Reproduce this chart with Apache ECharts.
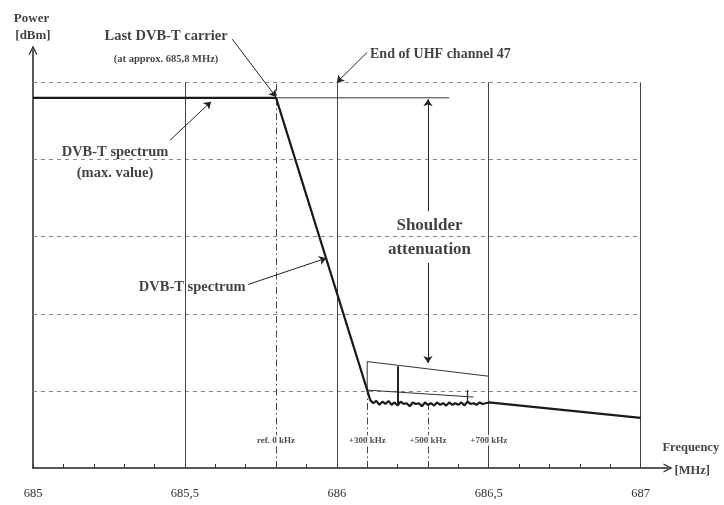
<!DOCTYPE html>
<html>
<head>
<meta charset="utf-8">
<script src="https://cdn.jsdelivr.net/npm/echarts@6/dist/echarts.min.js"></script>
<style>
  html, body { margin: 0; padding: 0; background: #fff; }
  #chart { width: 724px; height: 505px; }
</style>
</head>
<body>
<div id="chart"></div>
<script>
  // spectrum of the last DVB-T carrier
  var spectrumMHz = [685, 685.8, 686.1, 686.11, 686.12, 686.13, 686.14, 686.15, 686.16, 686.17, 686.18, 686.19,
    686.2, 686.21, 686.22, 686.23, 686.24, 686.25, 686.26, 686.27, 686.28, 686.29, 686.3, 686.31, 686.32,
    686.33, 686.34, 686.35, 686.36, 686.37, 686.38, 686.39, 686.4, 686.41, 686.42, 686.43, 686.44, 686.45,
    686.46, 686.47, 686.48, 686.5, 687];
  var spectrumPower = [4.8, 4.8, 1.01, 0.88, 0.84, 0.87, 0.82, 0.86, 0.83, 0.87, 0.82, 0.85,
    0.81, 0.86, 0.83, 0.84, 0.80, 0.85, 0.83, 0.84, 0.80, 0.85, 0.82, 0.84, 0.81,
    0.85, 0.82, 0.84, 0.81, 0.85, 0.82, 0.84, 0.82, 0.85, 0.81, 0.86, 0.83, 0.84,
    0.82, 0.85, 0.83, 0.85, 0.65];

  var maxLevelLine = [[685, 4.8], [686.37, 4.8]];
  var shoulderUpper = [[686.1, 1.01], [686.1, 1.38], [686.5, 1.19]];
  var shoulderLower = [[686.1, 1.01], [686.45, 0.92]];
  var spikes = [[[686.2, 0.83], [686.2, 1.32]], [[686.43, 0.84], [686.43, 1.01]]];

  var gridLevels = [1, 2, 3, 4, 5];
  var gridFreqs = [685.5, 686, 686.5, 687];
  var markerFreqs = [685.8, 686.1, 686.3];
  var markerTops = [5, 1.0, 0.82];
  var markerLabels = ['ref. 0 kHz', '+300 kHz', '+500 kHz', '+700 kHz'];
  var markerLabelFreqs = [685.8, 686.1, 686.3, 686.5];

  var tickValues = [685, 685.1, 685.2, 685.3, 685.4, 685.5, 685.6, 685.7, 685.8, 685.9, 686,
    686.1, 686.2, 686.3, 686.4, 686.5, 686.6, 686.7, 686.8, 686.9, 687];
  var labelValues = [685, 685.5, 686, 686.5, 687];

  // pointer arrows: [from, to]
  var pointers = [
    [[685.656, 5.56], [685.8, 4.81]],
    [[686.1, 5.39], [686.0, 5.0]],
    [[685.451, 4.25], [685.586, 4.75]],
    [[685.708, 2.38], [685.965, 2.72]],
    [[686.3, 3.33], [686.3, 4.78]],
    [[686.3, 2.66], [686.3, 1.36]]
  ];

  var notes = [
    { name: 'Power', pos: [684.995, 5.83], size: 13 },
    { name: '[dBm]', pos: [685.0, 5.6], size: 13 },
    { name: 'Last DVB-T carrier', pos: [685.438, 5.6], size: 14.5 },
    { name: '(at approx. 685,8 MHz)', pos: [685.438, 5.3], size: 10.5 },
    { name: 'End of UHF channel 47', pos: [686.341, 5.36], size: 14 },
    { name: 'DVB-T spectrum', pos: [685.27, 4.1], size: 14.5 },
    { name: '(max. value)', pos: [685.27, 3.82], size: 14.5 },
    { name: 'DVB-T spectrum', pos: [685.524, 2.35], size: 14.5 },
    { name: 'Shoulder', pos: [686.305, 3.14], size: 17 },
    { name: 'attenuation', pos: [686.305, 2.83], size: 17 },
    { name: 'Frequency', pos: [687.165, 0.26], size: 12.5 },
    { name: '[MHz]', pos: [687.17, -0.04], size: 12.5 }
  ];

  var serif = "'Liberation Serif', 'DejaVu Serif', serif";
  var chevron = 'path://M0,12 L6,0 L12,12 L10.2,12 L6,3.6 L1.8,12 Z';

  var gridLines = [];
  gridLevels.forEach(function (v) {
    gridLines.push({ coords: [[685, v], [687, v]], lineStyle: { type: [4, 4], color: '#888', width: 1 } });
  });
  gridFreqs.forEach(function (f) {
    gridLines.push({ coords: [[f, 0], [f, 5]], lineStyle: { type: 'solid', color: '#444', width: 1 } });
  });
  markerFreqs.forEach(function (f, i) {
    gridLines.push({ coords: [[f, 0], [f, markerTops[i]]], lineStyle: { type: [7, 3, 1.5, 3], color: '#444', width: 1 } });
  });

  var spectrum = spectrumMHz.map(function (f, i) { return [f, spectrumPower[i]]; });

  var chart = echarts.init(document.getElementById('chart'));
  var option = {
    animation: false,
    grid: { left: 33, right: 56, top: 50, bottom: 37 },
    xAxis: {
      type: 'value',
      min: 685,
      max: 687.09,
      splitLine: { show: false },
      axisLine: {
        lineStyle: { color: '#222', width: 1.5 },
        symbol: ['none', chevron],
        symbolSize: [10, 9]
      },
      axisTick: { show: true, inside: true, length: 4, customValues: tickValues, lineStyle: { color: '#333' } },
      axisLabel: {
        customValues: labelValues,
        margin: 19,
        color: '#333',
        fontFamily: serif,
        fontSize: 12.5,
        formatter: function (v) { return String(v).replace('.', ','); }
      }
    },
    yAxis: {
      type: 'value',
      min: 0,
      max: 5.42,
      splitLine: { show: false },
      axisLine: {
        show: true,
        lineStyle: { color: '#222', width: 1.5 },
        symbol: ['none', chevron],
        symbolSize: [10, 9]
      },
      axisTick: { show: false },
      axisLabel: { show: false }
    },
    series: [
      {
        type: 'lines',
        coordinateSystem: 'cartesian2d',
        clip: false,
        silent: true,
        symbol: 'none',
        data: gridLines,
        lineStyle: { opacity: 1 },
        z: 1
      },
      {
        type: 'line',
        data: maxLevelLine,
        symbol: 'none',
        lineStyle: { color: '#333', width: 1 },
        z: 3
      },
      {
        type: 'line',
        data: shoulderUpper,
        symbol: 'none',
        lineStyle: { color: '#333', width: 1 },
        z: 3
      },
      {
        type: 'line',
        data: shoulderLower,
        symbol: 'none',
        lineStyle: { color: '#333', width: 1 },
        z: 3
      },
      {
        type: 'lines',
        coordinateSystem: 'cartesian2d',
        clip: false,
        symbol: 'none',
        data: spikes.map(function (s, i) { return { coords: s, lineStyle: { width: i === 0 ? 2 : 1.2 } }; }),
        lineStyle: { color: '#222', opacity: 1 },
        z: 4
      },
      {
        type: 'line',
        data: spectrum,
        symbol: 'none',
        lineStyle: { color: '#1a1a1a', width: 2.2 },
        z: 5
      },
      {
        type: 'lines',
        coordinateSystem: 'cartesian2d',
        clip: false,
        symbol: ['none', 'arrow'],
        symbolSize: 7,
        data: pointers.map(function (p) { return { coords: p }; }),
        lineStyle: { color: '#222', width: 1, opacity: 1 },
        z: 6
      },
      {
        type: 'scatter',
        clip: false,
        symbolSize: 1,
        itemStyle: { color: 'rgba(0,0,0,0)' },
        data: markerLabels.map(function (t, i) {
          return { name: t, value: [markerLabelFreqs[i], 0.36] };
        }),
        label: {
          show: true,
          position: 'inside',
          formatter: '{b}',
          color: '#222',
          fontFamily: serif,
          fontSize: 9,
          fontWeight: 'bold',
          backgroundColor: '#fff',
          padding: [1, 2]
        },
        z: 7
      },
      {
        type: 'scatter',
        clip: false,
        symbolSize: 1,
        itemStyle: { color: 'rgba(0,0,0,0)' },
        data: notes.map(function (n) {
          return {
            name: n.name,
            value: n.pos,
            label: { fontSize: n.size }
          };
        }),
        label: {
          show: true,
          position: 'inside',
          formatter: '{b}',
          color: '#111',
          fontWeight: 'bold',
          fontFamily: serif
        },
        z: 8
      }
    ]
  };
  chart.setOption(option);
</script>
</body>
</html>
